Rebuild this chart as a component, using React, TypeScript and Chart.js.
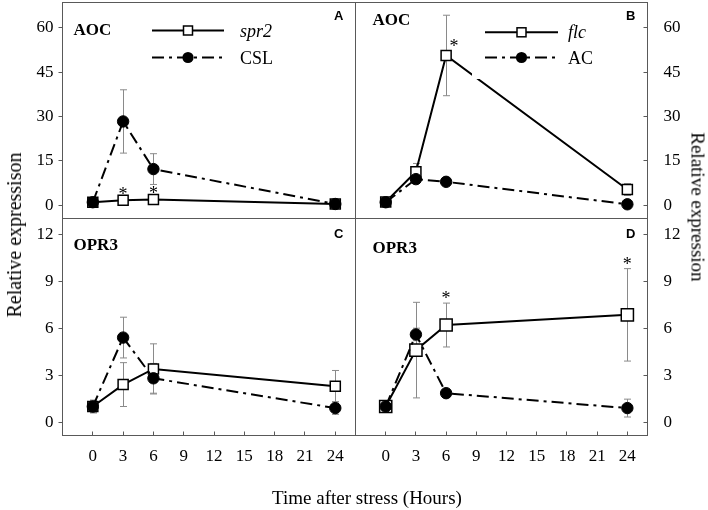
import React, { useEffect, useRef } from "react";
import { Chart, registerables } from "chart.js";

Chart.register(...registerables);

// ---------- data ----------
const hours = [0, 3, 6, 24];
const hourTicks = [0, 3, 6, 9, 12, 15, 18, 21, 24];
const aocTicks = [0, 15, 30, 45, 60];
const opr3Ticks = [0, 3, 6, 9, 12];

// Panel A: AOC, spr2 vs CSL
const aocSpr2 = [1.0, 1.7, 1.9, 0.4];
const aocSpr2Err = [0.3, 0.5, 0.5, 0.2];
const aocCsl = [1.0, 28.3, 12.2, 0.4];
const aocCslErr = [0.4, 10.7, 5.2, 0.3];
const aocSpr2Sig = [1, 2];

// Panel B: AOC, flc vs AC
const aocFlc = [1.1, 11.3, 50.6, 5.3];
const aocFlcErr = [0.3, 2.8, 13.6, 2.0];
const aocAc = [1.0, 8.8, 7.9, 0.3];
const aocAcErr = [0.3, 0.8, 0.6, 0.2];
const aocFlcSig = [2];

// Panel C: OPR3, spr2 vs CSL
const opr3Spr2 = [1.0, 2.4, 3.4, 2.3];
const opr3Spr2Err = [0.4, 1.4, 1.6, 1.0];
const opr3Csl = [1.0, 5.4, 2.8, 0.9];
const opr3CslErr = [0.4, 1.3, 0.95, 0.4];
const opr3Spr2Sig: number[] = [];

// Panel D: OPR3, flc vs AC
const opr3Flc = [1.0, 4.6, 6.2, 6.85];
const opr3FlcErr = [0.2, 3.05, 1.4, 2.95];
const opr3Ac = [1.0, 5.6, 1.85, 0.9];
const opr3AcErr = [0.2, 0.4, 0.25, 0.57];
const opr3FlcSig = [2, 3];

// ---------- styling ----------
const SERIF = "'Liberation Serif', serif";
const SANS = "'Liberation Sans', sans-serif";
const FRAME = "#595959";
const ERR = "#8a8a8a";
const DASHDOT = [12, 5, 3, 5];

type Series = { label: string; italic: boolean; values: number[]; err: number[] };
type Panel = {
  box: { l: number; t: number; r: number; b: number };
  yTicks: number[];
  yMin: number;
  yMax: number;
  yPos: "left" | "right";
  showX: boolean;
  gene: string;
  geneX: number;
  geneY: number;
  letter: string;
  letterY: number;
  mutant: Series;
  wt: Series;
  squareR: number;
  sig: number[];
  sigMode: "above" | "right";
  legend?: { x1: number; x2: number; y1: number; y2: number; tx: number; box: number[] };
};

const panels: Panel[] = [
  {
    box: { l: 62.5, t: 2.5, r: 355.5, b: 218.5 },
    yTicks: aocTicks, yMin: -4.5, yMax: 68.5, yPos: "left", showX: false,
    gene: "AOC", geneX: 73.5, geneY: 34.5, letter: "A", letterY: 19.5,
    mutant: { label: "spr2", italic: true, values: aocSpr2, err: aocSpr2Err },
    wt: { label: "CSL", italic: false, values: aocCsl, err: aocCslErr },
    squareR: 7.1, sig: aocSpr2Sig, sigMode: "above",
    legend: { x1: 152, x2: 224, y1: 30.5, y2: 57.5, tx: 240, box: [145, 16, 150, 58] },
  },
  {
    box: { l: 355.5, t: 2.5, r: 647.5, b: 218.5 },
    yTicks: aocTicks, yMin: -4.5, yMax: 68.5, yPos: "right", showX: false,
    gene: "AOC", geneX: 372.5, geneY: 25, letter: "B", letterY: 19.5,
    mutant: { label: "flc", italic: true, values: aocFlc, err: aocFlcErr },
    wt: { label: "AC", italic: false, values: aocAc, err: aocAcErr },
    squareR: 7.1, sig: aocFlcSig, sigMode: "right",
    legend: { x1: 485, x2: 558, y1: 32.3, y2: 57.5, tx: 568, box: [472, 16, 140, 63] },
  },
  {
    box: { l: 62.5, t: 218.5, r: 355.5, b: 435.5 },
    yTicks: opr3Ticks, yMin: -0.85, yMax: 13.0, yPos: "left", showX: true,
    gene: "OPR3", geneX: 73.5, geneY: 250, letter: "C", letterY: 237.5,
    mutant: { label: "spr2", italic: true, values: opr3Spr2, err: opr3Spr2Err },
    wt: { label: "CSL", italic: false, values: opr3Csl, err: opr3CslErr },
    squareR: 7.1, sig: opr3Spr2Sig, sigMode: "above",
  },
  {
    box: { l: 355.5, t: 218.5, r: 647.5, b: 435.5 },
    yTicks: opr3Ticks, yMin: -0.85, yMax: 13.0, yPos: "right", showX: true,
    gene: "OPR3", geneX: 372.5, geneY: 253, letter: "D", letterY: 237.5,
    mutant: { label: "flc", italic: true, values: opr3Flc, err: opr3FlcErr },
    wt: { label: "AC", italic: false, values: opr3Ac, err: opr3AcErr },
    squareR: 8.6, sig: opr3FlcSig, sigMode: "above",
  },
];

const W = 708;
const H = 510;
const Y_AXIS_W = 50;
const X_AXIS_H = 40;

function makePlugin(p: Panel) {
  return {
    id: "panelDecor" + p.letter,
    beforeDatasetsDraw(chart: any) {
      const ctx = chart.ctx;
      const xs = chart.scales.x;
      const ys = chart.scales.y;
      ctx.save();
      ctx.strokeStyle = ERR;
      ctx.lineWidth = 1;
      [p.mutant, p.wt].forEach((s) => {
        s.values.forEach((v, i) => {
          const x = Math.round(xs.getPixelForValue(hours[i])) + 0.5;
          const yt = ys.getPixelForValue(v + s.err[i]);
          const yb = ys.getPixelForValue(v - s.err[i]);
          ctx.beginPath();
          ctx.moveTo(x, yt);
          ctx.lineTo(x, yb);
          ctx.moveTo(x - 3.5, yt);
          ctx.lineTo(x + 3.5, yt);
          ctx.moveTo(x - 3.5, yb);
          ctx.lineTo(x + 3.5, yb);
          ctx.stroke();
        });
      });
      ctx.restore();
    },
    afterDatasetsDraw(chart: any) {
      const ctx = chart.ctx;
      const xs = chart.scales.x;
      const ys = chart.scales.y;
      ctx.save();
      // significance asterisks
      ctx.fillStyle = "#000";
      ctx.font = `18px ${SERIF}`;
      ctx.textAlign = "center";
      ctx.textBaseline = "alphabetic";
      p.sig.forEach((i) => {
        const v = p.mutant.values[i];
        const x = xs.getPixelForValue(hours[i]);
        let cx = x;
        let cy: number;
        if (p.sigMode === "right") {
          cx = x + 8;
          cy = ys.getPixelForValue(v) - 12.5;
        } else {
          cy = ys.getPixelForValue(v + p.mutant.err[i]) - 7.5;
        }
        ctx.fillText("*", cx, cy + 8.6);
      });
      // legend
      if (p.legend) {
        const L = p.legend;
        ctx.fillStyle = "#fff";
        ctx.fillRect(L.box[0], L.box[1], L.box[2], L.box[3]);
        const mx = (L.x1 + L.x2) / 2;
        ctx.strokeStyle = "#000";
        ctx.lineWidth = 2;
        ctx.beginPath();
        ctx.moveTo(L.x1, L.y1);
        ctx.lineTo(L.x2, L.y1);
        ctx.stroke();
        ctx.setLineDash(DASHDOT);
        ctx.beginPath();
        ctx.moveTo(L.x1, L.y2);
        ctx.lineTo(L.x2, L.y2);
        ctx.stroke();
        ctx.setLineDash([]);
        ctx.fillStyle = "#fff";
        ctx.lineWidth = 1.5;
        ctx.fillRect(mx - 4.5, L.y1 - 4.5, 9, 9);
        ctx.strokeRect(mx - 4.5, L.y1 - 4.5, 9, 9);
        ctx.fillStyle = "#000";
        ctx.beginPath();
        ctx.arc(mx, L.y2, 5.6, 0, Math.PI * 2);
        ctx.fill();
        ctx.textAlign = "left";
        ctx.textBaseline = "alphabetic";
        ctx.font = `${p.mutant.italic ? "italic " : ""}18px ${SERIF}`;
        ctx.fillText(p.mutant.label, L.tx, L.y1 + 6);
        ctx.font = `${p.wt.italic ? "italic " : ""}18px ${SERIF}`;
        ctx.fillText(p.wt.label, L.tx, L.y2 + 6);
      }
      ctx.restore();
    },
    afterDraw(chart: any) {
      const ctx = chart.ctx;
      const a = chart.chartArea;
      ctx.save();
      ctx.strokeStyle = FRAME;
      ctx.lineWidth = 1;
      ctx.strokeRect(a.left, a.top, a.right - a.left, a.bottom - a.top);
      ctx.fillStyle = "#000";
      ctx.textBaseline = "alphabetic";
      ctx.textAlign = "left";
      ctx.font = `bold 17px ${SERIF}`;
      ctx.fillText(p.gene, p.geneX, p.geneY);
      ctx.textAlign = "right";
      ctx.font = `bold 13px ${SANS}`;
      ctx.fillText(p.letter, a.right - 12, p.letterY);
      ctx.restore();
    },
  };
}

function PanelChart({ p }: { p: Panel }) {
  const ref = useRef<HTMLCanvasElement | null>(null);
  useEffect(() => {
    if (!ref.current) return;
    const left = p.yPos === "left" ? p.box.l - Y_AXIS_W : p.box.l;
    const right = p.yPos === "right" ? W - p.box.r - Y_AXIS_W : W - p.box.r;
    const bottom = p.showX ? H - p.box.b - X_AXIS_H : H - p.box.b;
    const tickFont = { family: SERIF, size: 17 };
    const mk = (s: Series, square: boolean) => ({
      label: s.label,
      data: hours.map((h, i) => ({ x: h, y: s.values[i] })),
      borderColor: "#000",
      borderWidth: 2,
      borderDash: square ? [] : DASHDOT,
      tension: 0,
      pointStyle: square ? "rect" : "circle",
      pointRadius: square ? p.squareR : 5.7,
      pointBackgroundColor: square ? "#fff" : "#000",
      pointBorderColor: "#000",
      pointBorderWidth: square ? 1.5 : 1,
      order: square ? 1 : 0,
    });
    const chart = new Chart(ref.current, {
      type: "line",
      data: { datasets: [mk(p.mutant, true), mk(p.wt, false)] as any },
      options: {
        animation: false,
        responsive: false,
        devicePixelRatio: 1,
        events: [],
        layout: { autoPadding: false, padding: { left, right, top: p.box.t, bottom } },
        plugins: { legend: { display: false }, tooltip: { enabled: false } },
        scales: {
          x: {
            type: "linear",
            min: -3,
            max: 26,
            display: p.showX,
            position: "bottom",
            afterBuildTicks: (s: any) => {
              s.ticks = hourTicks.map((v) => ({ value: v }));
            },
            afterFit: (s: any) => {
              s.height = p.showX ? X_AXIS_H : 0;
              s.paddingLeft = 0;
              s.paddingRight = 0;
              s.paddingTop = 0;
              s.paddingBottom = 0;
            },
            grid: { drawOnChartArea: false, drawTicks: true, tickLength: -4, color: FRAME },
            border: { display: false },
            ticks: { padding: 14.5, color: "#000", font: tickFont, maxRotation: 0, autoSkip: false },
          },
          y: {
            type: "linear",
            min: p.yMin,
            max: p.yMax,
            position: p.yPos,
            afterBuildTicks: (s: any) => {
              s.ticks = p.yTicks.map((v) => ({ value: v }));
            },
            afterFit: (s: any) => {
              s.width = Y_AXIS_W;
              s.paddingTop = 0;
              s.paddingBottom = 0;
              s.paddingLeft = 0;
              s.paddingRight = 0;
            },
            grid: {
              drawOnChartArea: false,
              drawTicks: true,
              tickLength: p.yPos === "left" ? 4 : -4,
              color: FRAME,
            },
            border: { display: false },
            ticks: { padding: p.yPos === "left" ? 5 : 20, color: "#000", font: tickFont },
          },
        } as any,
      },
      plugins: [makePlugin(p)],
    } as any);
    return () => chart.destroy();
  }, [p]);
  return (
    <canvas
      ref={ref}
      width={W}
      height={H}
      style={{ position: "absolute", left: 0, top: 0, width: W, height: H }}
    />
  );
}

const titleStyle: React.CSSProperties = {
  position: "absolute",
  fontFamily: SERIF,
  fontSize: 19,
  lineHeight: "1",
  whiteSpace: "nowrap",
  color: "#000",
};

export default function App() {
  return (
    <div style={{ position: "fixed", left: 0, top: 0, width: W, height: H, background: "#fff", overflow: "hidden" }}>
      {panels.map((p) => (
        <PanelChart key={p.letter} p={p} />
      ))}
      <div style={{ ...titleStyle, fontSize: 20, left: 14, top: 235, transform: "translate(-50%, -50%) rotate(-90deg)" }}>
        Relative expressison
      </div>
      <div style={{ ...titleStyle, left: 698, top: 207, transform: "translate(-50%, -50%) rotate(90deg)" }}>
        Relative expression
      </div>
      <div style={{ ...titleStyle, left: 367, top: 497, transform: "translate(-50%, -50%)" }}>
        Time after stress (Hours)
      </div>
    </div>
  );
}
